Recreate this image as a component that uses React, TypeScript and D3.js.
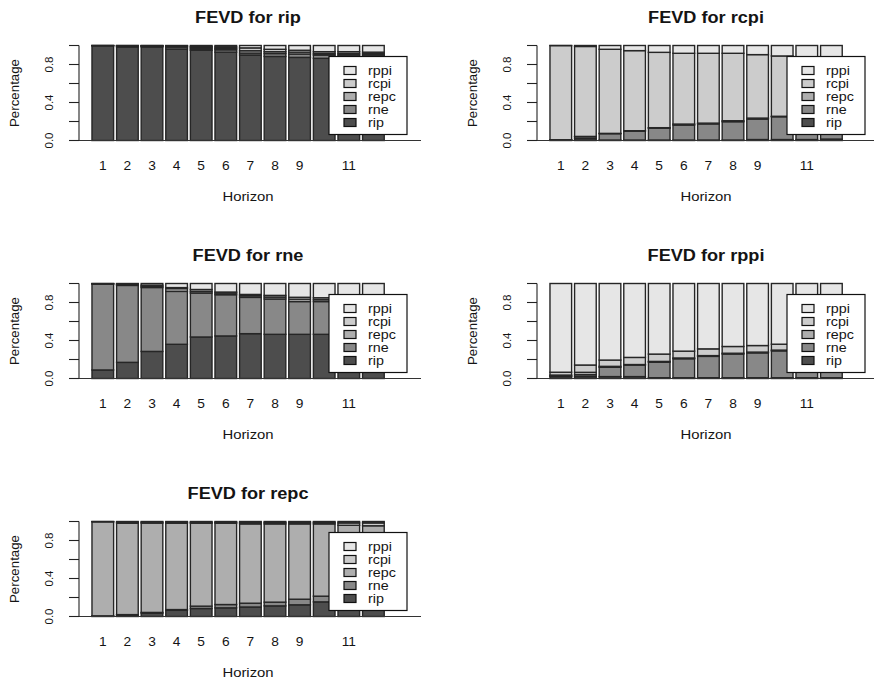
import React from "react";
import * as d3 from "d3";

const horizons = [1, 2, 3, 4, 5, 6, 7, 8, 9, 10, 11, 12];
const xTickLabels = ["1", "2", "3", "4", "5", "6", "7", "8", "9", "", "11", ""];
const seriesKeys = ["rip", "rne", "repc", "rcpi", "rppi"];
const seriesColors = ["#4D4D4D", "#888888", "#AEAEAE", "#CCCCCC", "#E6E6E6"];
const yTicks = [0, 0.2, 0.4, 0.6, 0.8, 1.0];
const yTickLabels = ["0.0", "", "0.4", "", "0.8", ""];

const fevdRip = {
  rip: [0.998, 0.985, 0.985, 0.963, 0.95, 0.93, 0.9, 0.885, 0.875, 0.865, 0.86, 0.86],
  rne: [0.001, 0.01, 0.008, 0.02, 0.015, 0.025, 0.02, 0.03, 0.035, 0.035, 0.04, 0.04],
  repc: [0.0005, 0.003, 0.004, 0.01, 0.015, 0.015, 0.025, 0.02, 0.02, 0.015, 0.015, 0.015],
  rcpi: [0.0005, 0.001, 0.002, 0.005, 0.01, 0.015, 0.03, 0.025, 0.02, 0.02, 0.02, 0.015],
  rppi: [0, 0.001, 0.001, 0.002, 0.01, 0.015, 0.025, 0.04, 0.05, 0.065, 0.065, 0.07],
};
const fevdRcpi = {
  rip: [0.005, 0.02, 0.005, 0.005, 0.005, 0.005, 0.005, 0.005, 0.01, 0.01, 0.01, 0.015],
  rne: [0.002, 0.02, 0.067, 0.095, 0.125, 0.158, 0.17, 0.193, 0.216, 0.24, 0.26, 0.27],
  repc: [0.001, 0.003, 0.003, 0.003, 0.005, 0.01, 0.008, 0.01, 0.01, 0.005, 0.005, 0.005],
  rcpi: [0.991, 0.947, 0.885, 0.843, 0.793, 0.745, 0.735, 0.71, 0.668, 0.635, 0.605, 0.58],
  rppi: [0.001, 0.01, 0.04, 0.054, 0.072, 0.082, 0.082, 0.082, 0.096, 0.11, 0.12, 0.13],
};
const fevdRne = {
  rip: [0.09, 0.17, 0.285, 0.36, 0.437, 0.448, 0.472, 0.465, 0.465, 0.465, 0.46, 0.46],
  rne: [0.905, 0.81, 0.673, 0.557, 0.463, 0.434, 0.382, 0.372, 0.345, 0.345, 0.34, 0.335],
  repc: [0.002, 0.01, 0.012, 0.03, 0.017, 0.017, 0.017, 0.02, 0.025, 0.02, 0.02, 0.02],
  rcpi: [0.002, 0.005, 0.012, 0.01, 0.02, 0.011, 0.014, 0.018, 0.02, 0.02, 0.02, 0.02],
  rppi: [0.001, 0.005, 0.018, 0.043, 0.063, 0.09, 0.115, 0.125, 0.145, 0.15, 0.16, 0.165],
};
const fevdRppi = {
  rip: [0.02, 0.02, 0.02, 0.02, 0.008, 0.008, 0.008, 0.008, 0.008, 0.008, 0.008, 0.008],
  rne: [0.008, 0.02, 0.098, 0.122, 0.164, 0.2, 0.225, 0.25, 0.262, 0.283, 0.3, 0.31],
  repc: [0.008, 0.025, 0.01, 0.005, 0.008, 0.008, 0.008, 0.008, 0.008, 0.008, 0.008, 0.008],
  rcpi: [0.03, 0.077, 0.066, 0.075, 0.077, 0.072, 0.071, 0.071, 0.069, 0.062, 0.06, 0.06],
  rppi: [0.934, 0.858, 0.806, 0.778, 0.743, 0.712, 0.688, 0.663, 0.653, 0.639, 0.624, 0.614],
};
const fevdRepc = {
  rip: [0.005, 0.015, 0.035, 0.065, 0.084, 0.091, 0.1, 0.112, 0.123, 0.154, 0.16, 0.165],
  rne: [0.002, 0.005, 0.008, 0.008, 0.025, 0.035, 0.04, 0.039, 0.059, 0.06, 0.065, 0.07],
  repc: [0.99, 0.962, 0.94, 0.909, 0.873, 0.856, 0.835, 0.824, 0.793, 0.761, 0.735, 0.72],
  rcpi: [0.002, 0.01, 0.01, 0.01, 0.01, 0.01, 0.015, 0.015, 0.015, 0.015, 0.025, 0.03],
  rppi: [0.001, 0.008, 0.007, 0.008, 0.008, 0.008, 0.01, 0.01, 0.01, 0.01, 0.015, 0.015],
};

const panels = [
  { title: "FEVD for rip", data: fevdRip, col: 0, row: 0 },
  { title: "FEVD for rcpi", data: fevdRcpi, col: 1, row: 0 },
  { title: "FEVD for rne", data: fevdRne, col: 0, row: 1 },
  { title: "FEVD for rppi", data: fevdRppi, col: 1, row: 1 },
  { title: "FEVD for repc", data: fevdRepc, col: 0, row: 2 },
];

const FONT = "'Liberation Sans', Arial, Helvetica, sans-serif";
const SX = 1.1;
const INK = "#141414";

function HText({ x, y, size, bold, children }: any) {
  return (
    <g transform={`translate(${x},${y}) scale(${SX},1)`}>
      <text
        textAnchor="middle"
        fontFamily={FONT}
        fontSize={size}
        fontWeight={bold ? "bold" : "normal"}
        fill={INK}
      >
        {children}
      </text>
    </g>
  );
}

function Panel({ title, data, col, row }: any) {
  const dx = col * 458;
  const dy = row * 238;
  const axisX = 79 + dx;
  const baseEnd = 421 + dx;
  const x = d3
    .scaleBand<number>()
    .domain(horizons)
    .range([90.5 + dx, 90.5 + dx + 12 * 24.6])
    .paddingInner(0.12)
    .paddingOuter(0.06);
  const y = d3.scaleLinear().domain([0, 1]).range([140.5 + dy, 45.5 + dy]);
  const rows = horizons.map((h, i) => {
    const r: any = { h };
    seriesKeys.forEach((k) => (r[k] = data[k][i]));
    return r;
  });
  const stacked = d3.stack<any>().keys(seriesKeys)(rows);
  const cx = 248 + dx;
  const legX = 329 + dx;
  const legY = y(1) + 11;
  const legW = 78;
  const legH = 78;
  return (
    <g>
      <HText x={cx} y={22.7 + dy} size={16.5} bold>
        {title}
      </HText>
      {stacked.map((layer, li) => (
        <g key={li} fill={seriesColors[li]} stroke="#262626" strokeWidth={1.4}>
          {layer.map((d: any, i: number) => (
            <rect
              key={i}
              x={x(horizons[i])}
              width={x.bandwidth()}
              y={y(d[1])}
              height={Math.max(0, y(d[0]) - y(d[1]))}
            />
          ))}
        </g>
      ))}
      <line x1={axisX} x2={baseEnd} y1={y(0)} y2={y(0)} stroke="#333" strokeWidth={1.2} />
      <line x1={axisX} x2={axisX} y1={y(0)} y2={y(1)} stroke="#222" strokeWidth={1.1} />
      {yTicks.map((t, i) => (
        <g key={i}>
          <line x1={axisX - 10} x2={axisX} y1={y(t)} y2={y(t)} stroke="#222" strokeWidth={1.1} />
          {yTickLabels[i] && (
            <text
              transform={`translate(${axisX - 26},${y(t)}) rotate(-90)`}
              textAnchor="middle"
              fontFamily={FONT}
              fontSize={11.5}
              fill={INK}
            >
              {yTickLabels[i]}
            </text>
          )}
        </g>
      ))}
      <text
        transform={`translate(${dx + 19},${y(0.5)}) rotate(-90)`}
        textAnchor="middle"
        fontFamily={FONT}
        fontSize={13.3}
        fill={INK}
      >
        Percentage
      </text>
      {horizons.map((h, i) =>
        xTickLabels[i] ? (
          <HText key={i} x={x(h)! + x.bandwidth() / 2} y={170 + dy} size={12.5}>
            {xTickLabels[i]}
          </HText>
        ) : null
      )}
      <HText x={cx} y={200.7 + dy} size={13.5}>
        Horizon
      </HText>
      <rect x={legX} y={legY} width={legW} height={legH} fill="#fff" stroke="#111" strokeWidth={1.2} />
      {seriesKeys
        .map((k, i) => ({ k, c: seriesColors[i] }))
        .reverse()
        .map((it, j) => (
          <g key={it.k}>
            <rect
              x={legX + 15}
              y={legY + 14 + j * 13 - 4}
              width={12}
              height={8}
              fill={it.c}
              stroke="#111"
              strokeWidth={1.2}
            />
            <g transform={`translate(${legX + 39},${legY + 14 + j * 13 + 4.5}) scale(${SX},1)`}>
              <text fontFamily={FONT} fontSize={13} fill={INK}>
                {it.k}
              </text>
            </g>
          </g>
        ))}
    </g>
  );
}

export default function App() {
  return (
    <svg width={874} height={681} style={{ position: "absolute", left: 0, top: 0, background: "#fff" }}>
      <rect width={874} height={681} fill="#fff" />
      {panels.map((p, i) => (
        <Panel key={i} {...p} />
      ))}
    </svg>
  );
}
